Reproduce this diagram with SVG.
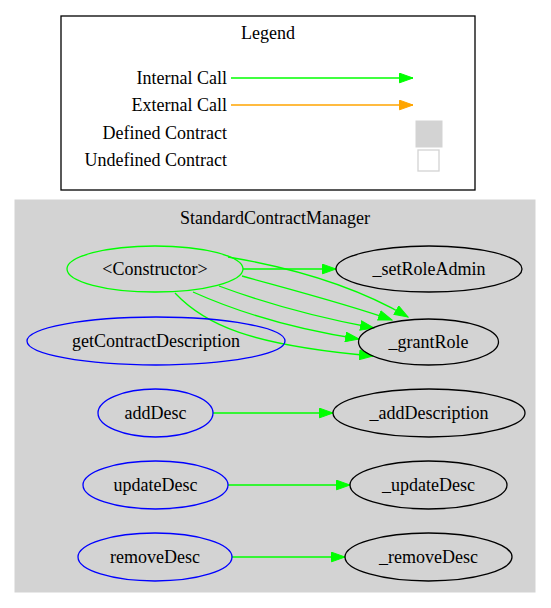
<svg xmlns="http://www.w3.org/2000/svg" width="551" height="608" viewBox="0 0 551 608">
<style>
text{font-family:"Liberation Serif","Times New Roman",serif;font-size:18px;fill:#000}
.m{text-anchor:middle}
.r{text-anchor:end}
.e{fill:none;stroke:#00ff00;stroke-width:1.3}
.ext{fill:none;stroke:#ffa500;stroke-width:1.3}
.pub{fill:none;stroke:#0000ff;stroke-width:1.3}
.int{fill:none;stroke:#000;stroke-width:1.3}
.ctor{fill:none;stroke:#00ff00;stroke-width:1.3}
</style>
<defs>
<marker id="ag" markerUnits="userSpaceOnUse" markerWidth="15" markerHeight="11" refX="14" refY="5.5" orient="auto" viewBox="0 0 15 11"><path d="M0.5,0.7 L14,5.5 L0.5,10.3 z" fill="#00ff00" stroke="#00ff00"/></marker>
<marker id="ao" markerUnits="userSpaceOnUse" markerWidth="15" markerHeight="11" refX="14" refY="5.5" orient="auto" viewBox="0 0 15 11"><path d="M0.5,0.7 L14,5.5 L0.5,10.3 z" fill="#ffa500" stroke="#ffa500"/></marker>
</defs>
<rect width="551" height="608" fill="#fff"/>
<g id="legend">
<rect x="61" y="16" width="414" height="174" fill="#fff" stroke="#000" stroke-width="1.3"/>
<text class="m" x="268" y="39">Legend</text>
<text class="r" x="227" y="84">Internal Call</text>
<path class="e" d="M231,78 L413,78" marker-end="url(#ag)"/>
<text class="r" x="227" y="111">External Call</text>
<path class="ext" d="M231,105 L413,105" marker-end="url(#ao)"/>
<text class="r" x="227" y="139">Defined Contract</text>
<rect x="416" y="121" width="26" height="26" fill="#d3d3d3" stroke="#d3d3d3"/>
<text class="r" x="227" y="166">Undefined Contract</text>
<rect x="418" y="150" width="21" height="21" fill="#fff" stroke="#d3d3d3" stroke-width="1.3"/>
</g>
<g id="cluster">
<rect x="15" y="200" width="520" height="392" fill="#d3d3d3" stroke="#d3d3d3"/>
<text class="m" x="275" y="224">StandardContractManager</text>
</g>
<g id="connectors">
<path class="e" d="M243,269 L336,269" marker-end="url(#ag)"/>
<path class="e" d="M228,257 C282,266 350,283 408,317" marker-end="url(#ag)"/>
<path class="e" d="M242,276 C300,292 350,305 392,320" marker-end="url(#ag)"/>
<path class="e" d="M219,286 C270,305 320,318 374,328" marker-end="url(#ag)"/>
<path class="e" d="M193,292 C240,313 300,330 359,339" marker-end="url(#ag)"/>
<path class="e" d="M175,293 C205,325 250,345 373,356" marker-end="url(#ag)"/>
<path class="e" d="M213,413 L333,413" marker-end="url(#ag)"/>
<path class="e" d="M228,485 L350,485" marker-end="url(#ag)"/>
<path class="e" d="M232,557 L345,557" marker-end="url(#ag)"/>
</g>
<g id="constructor"><ellipse class="ctor" cx="155" cy="269" rx="88" ry="23"/><text class="m" x="155" y="275">&lt;Constructor&gt;</text></g>
<g id="setRoleAdmin"><ellipse class="int" cx="429" cy="269" rx="93" ry="23"/><text class="m" x="429" y="275">_setRoleAdmin</text></g>
<g id="getContractDescription"><ellipse class="pub" cx="156" cy="341" rx="129" ry="24"/><text class="m" x="156" y="347">getContractDescription</text></g>
<g id="grantRole"><ellipse class="int" cx="428.5" cy="342" rx="70" ry="23"/><text class="m" x="428.5" y="348">_grantRole</text></g>
<g id="addDesc"><ellipse class="pub" cx="155.5" cy="413" rx="57.5" ry="24"/><text class="m" x="155.5" y="419">addDesc</text></g>
<g id="addDescription"><ellipse class="int" cx="429" cy="413" rx="96" ry="24"/><text class="m" x="429" y="419">_addDescription</text></g>
<g id="updateDesc"><ellipse class="pub" cx="155.5" cy="485" rx="72.5" ry="24"/><text class="m" x="155.5" y="491">updateDesc</text></g>
<g id="_updateDesc"><ellipse class="int" cx="428.5" cy="485" rx="78.5" ry="24"/><text class="m" x="428.5" y="491">_updateDesc</text></g>
<g id="removeDesc"><ellipse class="pub" cx="155" cy="557" rx="77" ry="24"/><text class="m" x="155" y="563">removeDesc</text></g>
<g id="_removeDesc"><ellipse class="int" cx="428.5" cy="557" rx="83.5" ry="24"/><text class="m" x="428.5" y="563">_removeDesc</text></g>
</svg>
